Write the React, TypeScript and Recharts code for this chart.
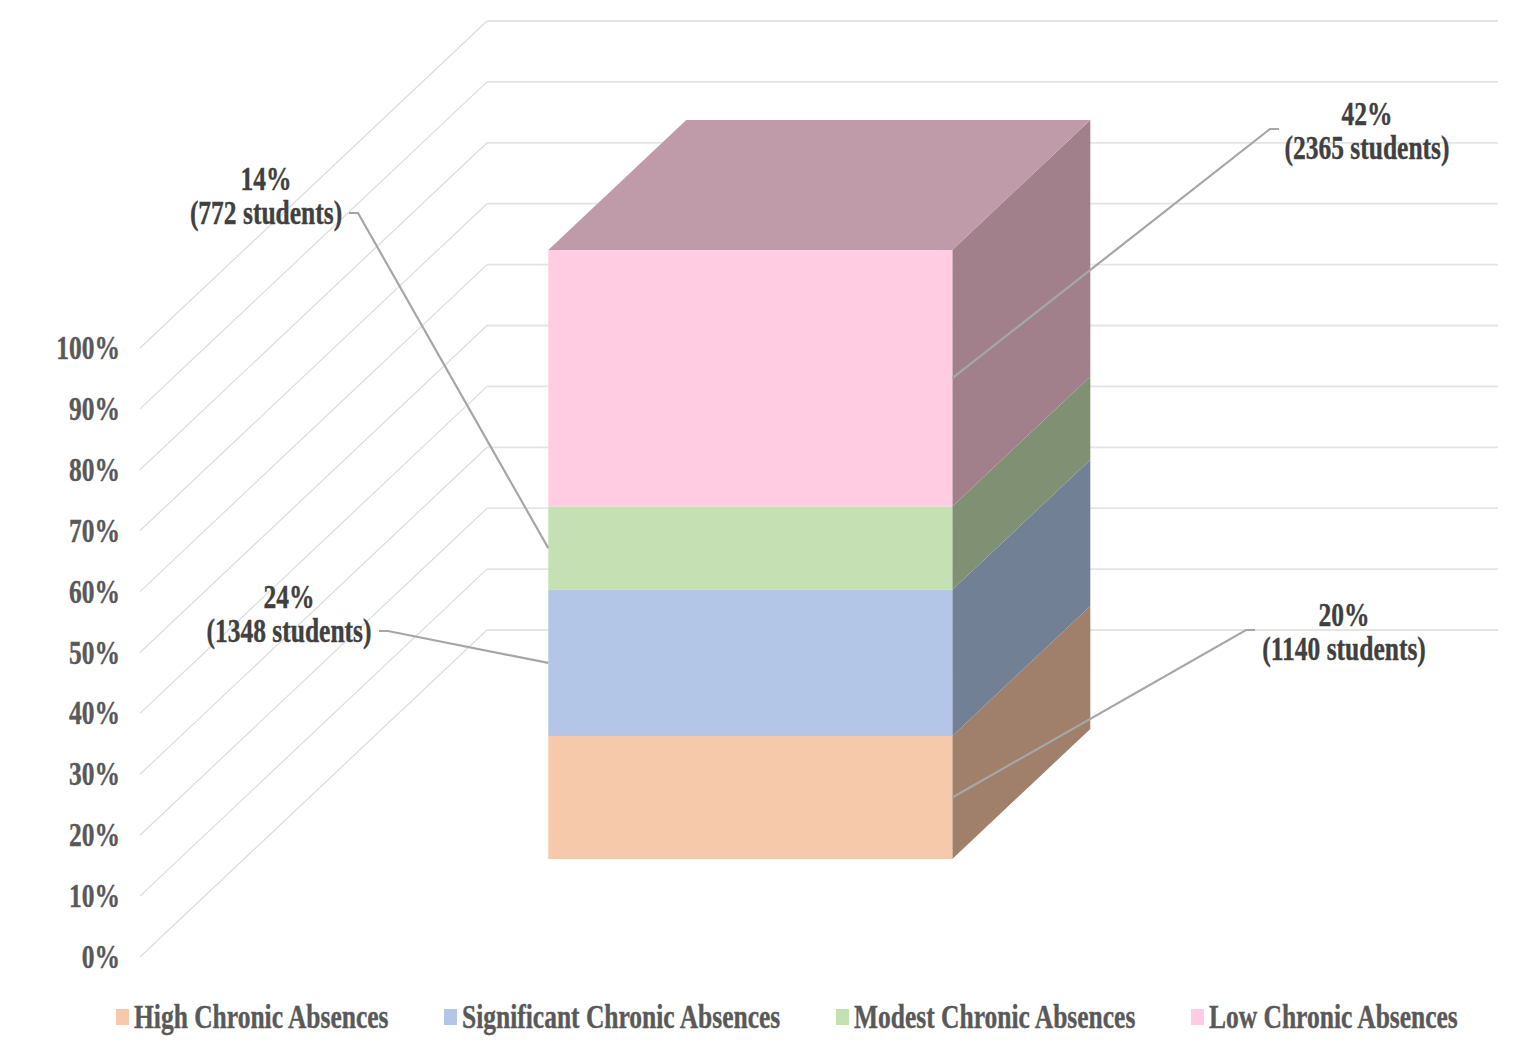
import { BarChart, Bar, XAxis, YAxis, CartesianGrid, Legend, LabelList } from 'recharts'

const CATEGORIES = ['Students']
const SERIES_NAMES = ['High Chronic Absences', 'Significant Chronic Absences', 'Modest Chronic Absences', 'Low Chronic Absences']
const SHARE_VALUES = [20.2, 24.0, 13.7, 42.1]
const PERCENT_LABELS = ['20%', '24%', '14%', '42%']
const STUDENT_COUNTS = [1140, 1348, 772, 2365]
const Y_TICKS = [0, 10, 20, 30, 40, 50, 60, 70, 80, 90, 100]

const FRONT_COLORS = ['#F6C9AB', '#B4C6E7', '#C5E0B3', '#FFCCE1']
const SIDE_COLORS = ['#A0806A', '#728095', '#7F9172', '#A1808C']
const TOP_COLOR = '#BF9AA8'

// depth of the fake 3d box
const WALL_DX = 347
const WALL_DY = -327
const BAR_OFFSET_X = 105
const BAR_OFFSET_Y = -98
const BAR_DEPTH_X = 138
const BAR_DEPTH_Y = -130

const CALLOUTS = [
  { side: 'right', elbowX: 1246, elbowY: 630, endX: 1255, textX: 1344, textY: 626 },
  { side: 'left', elbowX: 388, elbowY: 631, endX: 379, textX: 289, textY: 608 },
  { side: 'left', elbowX: 358, elbowY: 213, endX: 349, textX: 266, textY: 190 },
  { side: 'right', elbowX: 1270, elbowY: 129, endX: 1279, textX: 1367, textY: 125 },
]
const LEGEND_X = [116, 444, 836, 1191]

const data = CATEGORIES.map((name) => {
  const row: Record<string, string | number> = { name }
  SERIES_NAMES.forEach((s, i) => { row[s] = SHARE_VALUES[i] })
  return row
})

function SerifText({ x, y, fill, anchor = 'middle', children }: any) {
  return (
    <text
      transform={`translate(${x} ${y}) scale(1 1.31)`}
      textAnchor={anchor}
      fontFamily="'Liberation Serif', serif"
      fontWeight={700}
      fontSize={25.5}
      fill={fill}
      stroke={fill}
      strokeWidth={0.3}
    >
      {children}
    </text>
  )
}

function BoxSegment({ x, y, width, height, index }: any) {
  const left = x + BAR_OFFSET_X
  const right = left + width
  const top = y + BAR_OFFSET_Y
  const bottom = top + height
  const isTop = index === SERIES_NAMES.length - 1
  return (
    <g>
      <polygon
        points={`${right},${top} ${right + BAR_DEPTH_X},${top + BAR_DEPTH_Y} ${right + BAR_DEPTH_X},${bottom + BAR_DEPTH_Y} ${right},${bottom}`}
        fill={SIDE_COLORS[index]}
      />
      {isTop && (
        <polygon
          points={`${left},${top} ${left + BAR_DEPTH_X},${top + BAR_DEPTH_Y} ${right + BAR_DEPTH_X},${top + BAR_DEPTH_Y} ${right},${top}`}
          fill={TOP_COLOR}
        />
      )}
      <rect x={left} y={top} width={width} height={height} fill={FRONT_COLORS[index]} />
    </g>
  )
}

function Callout({ viewBox, index }: any) {
  const c = CALLOUTS[index]
  const left = viewBox.x + BAR_OFFSET_X
  const startX = c.side === 'left' ? left : left + viewBox.width
  const startY = viewBox.y + BAR_OFFSET_Y + viewBox.height / 2
  return (
    <g>
      <polyline
        points={`${startX},${startY} ${c.elbowX},${c.elbowY} ${c.endX},${c.elbowY}`}
        fill="none"
        stroke="#A6A6A6"
        strokeWidth={2.2}
      />
      <SerifText x={c.textX} y={c.textY} fill="#404040">{PERCENT_LABELS[index]}</SerifText>
      <SerifText x={c.textX} y={c.textY + 34} fill="#404040">{`(${STUDENT_COUNTS[index]} students)`}</SerifText>
    </g>
  )
}

function WallLine({ x1, y1, x2 }: any) {
  const backX = x1 + WALL_DX
  const backY = y1 + WALL_DY
  return (
    <g fill="none">
      <line x1={x1} y1={y1} x2={backX} y2={backY} stroke="#DCDCDC" strokeWidth={1.2} />
      <line x1={backX} y1={backY} x2={x2 + WALL_DX} y2={backY} stroke="#E4E4E4" strokeWidth={1.8} />
    </g>
  )
}

function PercentTick({ x, y, payload }: any) {
  return <SerifText x={x - 14} y={y + 11} anchor="end" fill="#595959">{`${payload.value}%`}</SerifText>
}

function ChartLegend() {
  return (
    <svg width={1540} height={60} style={{ display: 'block' }}>
      {SERIES_NAMES.map((s, i) => (
        <g key={s}>
          <rect x={LEGEND_X[i]} y={21} width={13} height={16} fill={FRONT_COLORS[i]} />
          <SerifText x={LEGEND_X[i] + 18} y={40} anchor="start" fill="#595959">{s}</SerifText>
        </g>
      ))}
    </svg>
  )
}

export default function App() {
  return (
    <div style={{ position: 'absolute', left: 0, top: 0, width: 1540, height: 1048, background: '#fff' }}>
      <BarChart
        width={1540}
        height={1048}
        data={data}
        barCategoryGap="30%"
        margin={{ top: 348, right: 389, bottom: 31, left: 22 }}
      >
        <CartesianGrid vertical={false} horizontal={(p: any) => <WallLine key={p.key} {...p} />} />
        <XAxis dataKey="name" hide />
        <YAxis
          type="number"
          width={118}
          domain={[0, 100]}
          ticks={Y_TICKS}
          axisLine={false}
          tickLine={false}
          interval={0}
          tickMargin={0}
          tick={(p: any) => <PercentTick {...p} />}
        />
        {SERIES_NAMES.map((s) => (
          <Bar key={s} dataKey={s} stackId="a" isAnimationActive={false} shape={(p: any) => <BoxSegment {...p} index={SERIES_NAMES.indexOf(s)} />}>
            <LabelList dataKey={s} content={(p: any) => <Callout {...p} index={SERIES_NAMES.indexOf(s)} />} />
          </Bar>
        ))}
        <Legend
          verticalAlign="bottom"
          height={60}
          content={() => <ChartLegend />}
          wrapperStyle={{ left: 0, bottom: 0, width: 1540, height: 60 }}
        />
      </BarChart>
    </div>
  )
}
